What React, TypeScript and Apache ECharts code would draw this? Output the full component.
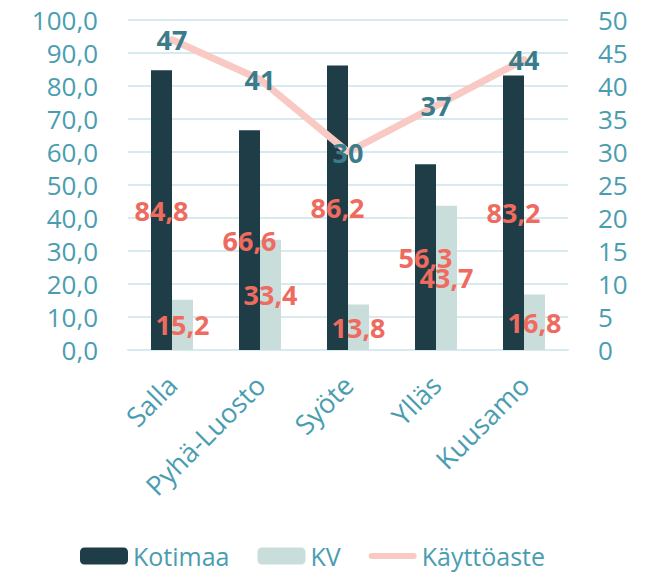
import React, { useEffect, useRef } from "react";
import * as echarts from "echarts";

const categories = ["Salla", "Pyhä-Luosto", "Syöte", "Ylläs", "Kuusamo"];
const kotimaa = [84.8, 66.6, 86.2, 56.3, 83.2];
const kv = [15.2, 33.4, 13.8, 43.7, 16.8];
const kayttoaste = [47, 41, 30, 37, 44];

const FONT = "'Open Sans', Lato, sans-serif";
const AXIS_COLOR = "#4a9db0";
const GRID_COLOR = "#d6eaf0";
const DARK = "#1f3d47";
const LIGHT = "#c9dedb";
const PINK = "#f9c9c4";
const RED = "#ef6b5f";
const TEAL = "#3b7c8a";

const fmt = (v: number) => v.toFixed(1).replace(".", ",");

export default function App() {
  const ref = useRef<HTMLDivElement>(null);
  useEffect(() => {
    if (!ref.current) return;
    const chart = echarts.init(ref.current, undefined, { renderer: "svg" });
    chart.setOption({
      animation: false,
      textStyle: { fontFamily: FONT },
      grid: { left: 128, right: 88, top: 20, bottom: 222 },
      legend: {
        left: 75,
        top: 538,
        itemWidth: 48,
        itemHeight: 17,
        itemGap: 28,
        textStyle: { color: AXIS_COLOR, fontSize: 25, fontFamily: FONT, lineHeight: 26 },
        data: [
          { name: "Kotimaa" },
          { name: "KV" },
          {
            name: "Käyttöaste",
            icon: "path://M3,0 H45 A3,3 0 0 1 45,6 H3 A3,3 0 0 1 3,0 Z",
          },
        ],
      },
      xAxis: {
        type: "category",
        data: categories,
        axisLine: { lineStyle: { color: GRID_COLOR, width: 2 } },
        axisTick: { show: false },
        axisLabel: {
          rotate: 45,
          margin: 30,
          color: AXIS_COLOR,
          fontSize: 27,
          fontFamily: FONT,
        },
      },
      yAxis: [
        {
          type: "value",
          min: 0,
          max: 100,
          interval: 10,
          axisLine: { show: false },
          axisTick: { show: false },
          splitLine: { lineStyle: { color: GRID_COLOR, width: 2 } },
          axisLabel: {
            margin: 30,
            color: AXIS_COLOR,
            fontSize: 26,
            lineHeight: 28,
            fontFamily: FONT,
            formatter: (v: number) => fmt(v),
          },
        },
        {
          type: "value",
          min: 0,
          max: 50,
          interval: 5,
          axisLine: { show: false },
          axisTick: { show: false },
          splitLine: { show: false },
          axisLabel: {
            margin: 30,
            color: AXIS_COLOR,
            fontSize: 26,
            lineHeight: 28,
            fontFamily: FONT,
          },
        },
      ],
      series: [
        {
          name: "Kotimaa",
          type: "bar",
          data: kotimaa,
          barWidth: 21,
          barGap: "0%",
          itemStyle: { color: DARK },
          label: {
            show: true,
            position: "inside",
            color: RED,
            fontSize: 27,
            fontWeight: "bold",
            fontFamily: FONT,
            formatter: (p: any) => fmt(p.value),
          },
        },
        {
          name: "KV",
          type: "bar",
          data: kv,
          barWidth: 21,
          barGap: "0%",
          itemStyle: { color: LIGHT },
          label: {
            show: true,
            position: "inside",
            color: RED,
            fontSize: 27,
            fontWeight: "bold",
            fontFamily: FONT,
            formatter: (p: any) => fmt(p.value),
          },
        },
        {
          name: "Käyttöaste",
          type: "line",
          yAxisIndex: 1,
          data: kayttoaste,
          symbol: "circle",
          symbolSize: 1,
          itemStyle: { color: PINK },
          lineStyle: { color: PINK, width: 7, cap: "round" },
          z: 5,
          label: {
            show: true,
            position: "inside",
            color: TEAL,
            fontSize: 27,
            fontWeight: "bold",
            fontFamily: FONT,
          },
        },
      ],
    });
    return () => chart.dispose();
  }, []);
  return (
    <div
      ref={ref}
      style={{ position: "absolute", left: 0, top: 0, width: 656, height: 572 }}
    />
  );
}
